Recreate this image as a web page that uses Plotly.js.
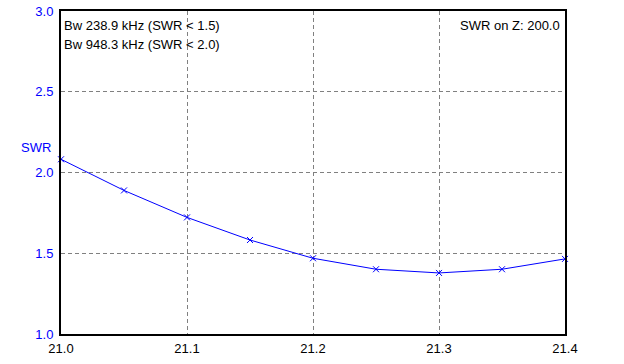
<!DOCTYPE html>
<html>
<head>
<meta charset="utf-8">
<script src="https://cdn.plot.ly/plotly-3.0.1.min.js"></script>
<style>html,body{margin:0;padding:0;background:#fff;}#chart{width:624px;height:364px;}</style>
</head>
<body>
<div id="chart"></div>
<script>
const freqs = [21.0, 21.05, 21.1, 21.15, 21.2, 21.25, 21.3, 21.35, 21.4];
const swr = [2.082, 1.889, 1.722, 1.582, 1.469, 1.401, 1.378, 1.401, 1.465];
const xTicks = [21.0, 21.1, 21.2, 21.3, 21.4];
const yTicks = [1.0, 1.5, 2.0, 2.5, 3.0];
const infoLines = ["Bw 238.9 kHz (SWR < 1.5)", "Bw 948.3 kHz (SWR < 2.0)"];
const zText = "SWR on Z: 200.0";
const yLabel = "SWR";

const font = {family: "Liberation Sans, Arial, sans-serif", size: 13, color: "#000"};

const trace = {
  x: freqs, y: swr, type: "scatter", mode: "lines+markers",
  line: {color: "#0000ff", width: 1},
  marker: {symbol: "x-thin", size: 6, line: {color: "#0000ff", width: 1}, color: "#0000ff"},
  hoverinfo: "none", cliponaxis: false
};

const layout = {
  width: 624, height: 364,
  margin: {l: 61, r: 59, t: 11, b: 30},
  paper_bgcolor: "#fff", plot_bgcolor: "#fff",
  showlegend: false,
  font: font,
  xaxis: {
    range: [21.0, 21.4], tickvals: xTicks, ticktext: xTicks.map(v => v.toFixed(1)),
    showgrid: true, gridcolor: "#808080", griddash: "4px,3px", gridwidth: 1,
    showline: true, linecolor: "#000", linewidth: 2, mirror: true,
    zeroline: false, ticks: "outside", ticklen: 1, tickcolor: "rgba(0,0,0,0)",
    tickfont: {family: font.family, size: 13, color: "#000"}
  },
  yaxis: {
    range: [1.0, 3.0], tickvals: yTicks, ticktext: yTicks.map(v => v.toFixed(1)),
    showgrid: true, gridcolor: "#808080", griddash: "4px,3px", gridwidth: 1,
    showline: true, linecolor: "#000", linewidth: 2, mirror: true,
    zeroline: false, ticks: "outside", ticklen: 3, tickcolor: "rgba(0,0,0,0)",
    tickfont: {family: font.family, size: 13, color: "#0000ff"}
  },
  annotations: [
    {xref: "paper", yref: "paper", x: 0.002, y: 0.955, xanchor: "left", yanchor: "middle", text: infoLines[0], showarrow: false, font: font},
    {xref: "paper", yref: "paper", x: 0.002, y: 0.897, xanchor: "left", yanchor: "middle", text: infoLines[1], showarrow: false, font: font},
    {xref: "paper", yref: "paper", x: 0.995, y: 0.955, xanchor: "right", yanchor: "middle", text: zText, showarrow: false, font: font},
    {xref: "paper", yref: "paper", x: -0.05, y: 0.578, xanchor: "center", yanchor: "middle", text: yLabel, showarrow: false, font: {family: font.family, size: 13, color: "#0000ff"}}
  ]
};

Plotly.newPlot("chart", [trace], layout, {displayModeBar: false, staticPlot: true});
</script>
</body>
</html>
